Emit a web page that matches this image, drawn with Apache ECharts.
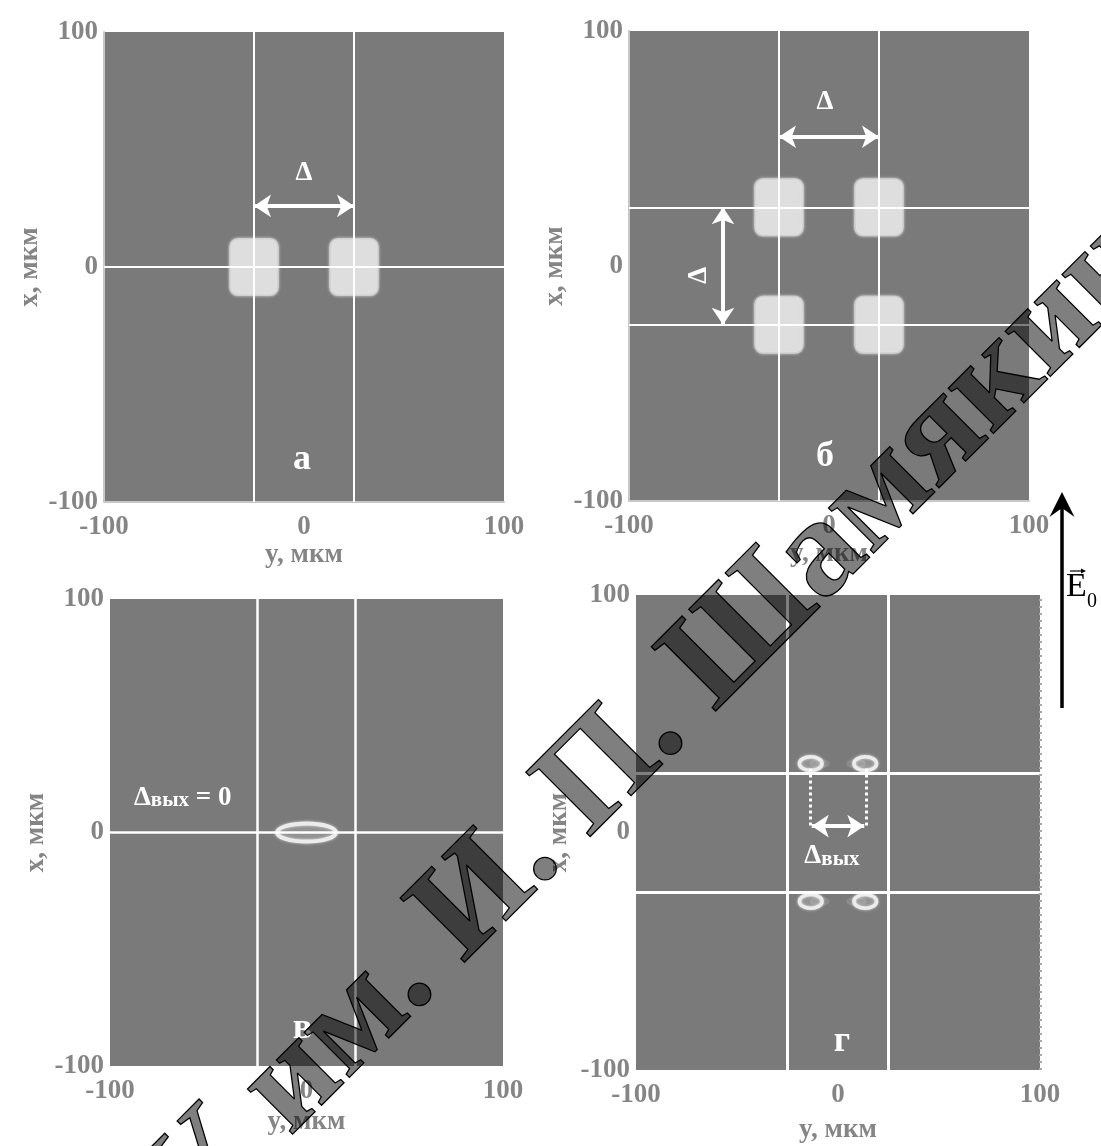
<!DOCTYPE html>
<html><head><meta charset="utf-8">
<script src="https://cdn.jsdelivr.net/npm/echarts@6/dist/echarts.min.js"></script>
<style>html,body{margin:0;padding:0;background:#fff}#c{width:1101px;height:1146px}</style>
</head><body><div id="c"></div>
<script>
// ---------- data ----------
const axisMin = -100, axisMax = 100, tickStep = 100;
const horizName = 'y, мкм';
const vertName = 'x, мкм';

// guide lines: vertical at y-values, horizontal at x-values
const guidesA_v = [-25, 25], guidesA_h = [0];
const guidesB_v = [-25, 25], guidesB_h = [25, -25];
const guidesV_v = [-25, 25], guidesV_h = [0];
const guidesG_v = [-25, 25], guidesG_h = [25, -25];

// input beams (squares) centres [y, x]
const squaresA = [[-25, 0], [25, 0]];
const squaresB = [[-25, 25], [25, 25], [-25, -25], [25, -25]];
const squareSide = 24;

// output rings centres [y, x] and radii [ry, rx]
const ringsV = [[0, 0]];
const ringV_radii = [15, 3.9];
const ringsG = [[-13.5, 29], [13.5, 29], [-13.5, -29], [13.5, -29]];
const ringG_radii = [5.6, 2.9];

// double arrows
const arrowsA = [[[-25, 26], [25, 26]]];
const arrowsB = [[[-25, 55], [25, 55]], [[-53, 25], [-53, -25]]];
const arrowsG = [[[-13, 2.7], [13, 2.7]]];
const dottedG = [[[-13.8, 27], [-13.8, 3]], [[14, 27], [14, 3]]];

// text labels [y, x, text, rotate]
const labelsA = [[0, 41, '{d|Δ}', 0], [-1, -82, '{p|а}', 0]];
const labelsB = [[-2, 71, '{d|Δ}', 0], [-66, -4, '{d|Δ}', 90], [-2, -81, '{p|б}', 0]];
const labelsV = [[-63, 16, '{d|Δ}{s|вых}{d| = 0}', 0], [-2, -84, '{p|в}', 0]];
const labelsG = [[-3, -9, '{d|Δ}{s|вых}', 0], [2, -88, '{p|г}', 0]];

// watermark text
const wmLeft = 'МГПУ им. И. П.';
const wmRight = ' Шамякина';

// ---------- layout ----------
const grids = [
  {left: 104, top: 32, width: 400, height: 470},
  {left: 629, top: 31, width: 400, height: 470},
  {left: 110, top: 599, width: 393, height: 467},
  {left: 636, top: 595, width: 404, height: 475}
];
const xNameGap = [35, 35, 43, 47];
const yNameGap = [60, 60, 60, 63];
const xLabelMargin = [12, 12, 12, 12];
const showAxisLine = [true, true, false, false];

const SERIF = '"Liberation Serif", "DejaVu Serif", serif';
const GRAY_TXT = '#858585';

const xAxes = grids.map((g, i) => ({
  type: 'value', gridIndex: i, min: axisMin, max: axisMax, interval: tickStep,
  name: horizName, nameLocation: 'middle', nameGap: xNameGap[i],
  nameTextStyle: {fontFamily: SERIF, fontWeight: 'bold', fontSize: 27, color: GRAY_TXT},
  axisLine: {show: showAxisLine[i], onZero: false, lineStyle: {color: '#c8c8c8', width: 2}},
  axisTick: {show: false}, splitLine: {show: false},
  axisLabel: {fontFamily: SERIF, fontWeight: 'bold', fontSize: 27, color: GRAY_TXT, margin: xLabelMargin[i]}
}));
const yAxes = grids.map((g, i) => ({
  type: 'value', gridIndex: i, min: axisMin, max: axisMax, interval: tickStep,
  name: vertName, nameLocation: 'middle', nameGap: yNameGap[i], nameRotate: 90,
  nameTextStyle: {fontFamily: SERIF, fontWeight: 'bold', fontSize: 27, color: GRAY_TXT},
  axisLine: {show: showAxisLine[i], onZero: false, lineStyle: {color: '#c8c8c8', width: 2}},
  axisTick: {show: false}, splitLine: {show: false},
  axisLabel: {fontFamily: SERIF, fontWeight: 'bold', fontSize: 27, color: GRAY_TXT, margin: 6}
}));

function squareSeries(idx, data) {
  return {
    type: 'custom', xAxisIndex: idx, yAxisIndex: idx, z: 2, silent: true,
    data: data,
    renderItem: function (params, api) {
      const y = api.value(0), x = api.value(1), h = squareSide / 2;
      const p0 = api.coord([y - h, x + h]);
      const p1 = api.coord([y + h, x - h]);
      return {type: 'rect',
        shape: {x: p0[0], y: p0[1], width: p1[0] - p0[0], height: p1[1] - p0[1], r: 8},
        style: {fill: '#dedede', stroke: '#cfcfcf', lineWidth: 1.5, shadowBlur: 3, shadowColor: 'rgba(230,230,230,0.8)'}};
    }
  };
}
function ellipsePath(cx, cy, rx, ry) {
  return 'M' + (cx - rx) + ',' + cy + 'A' + rx + ',' + ry + ',0,1,0,' + (cx + rx) + ',' + cy +
         'A' + rx + ',' + ry + ',0,1,0,' + (cx - rx) + ',' + cy + 'Z';
}
function ringSeries(idx, data, radii, width, tail) {
  return {
    type: 'custom', xAxisIndex: idx, yAxisIndex: idx, z: 2, silent: true,
    data: data,
    renderItem: function (params, api) {
      const y = api.value(0), x = api.value(1);
      const c = api.coord([y, x]);
      const e = api.coord([y + radii[0], x + radii[1]]);
      const rx = Math.abs(e[0] - c[0]), ry = Math.abs(e[1] - c[1]);
      const children = [];
      if (tail) {
        const dir = y < 0 ? 1 : -1;
        children.push({type: 'path', shape: {pathData: ellipsePath(c[0] + dir * rx * 0.8, c[1], rx * 0.8, ry * 0.55)},
          style: {fill: 'rgba(170,170,170,0.25)', stroke: 'rgba(190,190,190,0.2)', lineWidth: 2}});
      }
      children.push({type: 'path', shape: {pathData: ellipsePath(c[0], c[1], rx, ry)},
        style: {fill: 'rgba(255,255,255,0.12)', stroke: '#ececec', lineWidth: width, shadowBlur: 3, shadowColor: 'rgba(255,255,255,0.7)'}});
      return {type: 'group', children: children};
    }
  };
}
function guideSeries(idx, vs, hs, w) {
  return {
    type: 'line', xAxisIndex: idx, yAxisIndex: idx, data: [], z: 3, silent: true,
    markLine: {silent: true, symbol: ['none', 'none'], animation: false,
      label: {show: false},
      lineStyle: {color: '#ffffff', width: w, type: 'solid', opacity: 1},
      emphasis: {disabled: true},
      data: vs.map(v => ({xAxis: v})).concat(hs.map(v => ({yAxis: v})))}
  };
}
function edgeSeries(idx) {
  return {
    type: 'line', xAxisIndex: idx, yAxisIndex: idx, data: [], z: 3, silent: true,
    markLine: {silent: true, symbol: ['none', 'none'], animation: false,
      label: {show: false},
      lineStyle: {color: '#a8a8a8', width: 3, type: [2, 5], opacity: 1},
      emphasis: {disabled: true},
      data: [{xAxis: axisMax}]}
  };
}
function arrowSeries(idx, data) {
  return {
    type: 'lines', coordinateSystem: 'cartesian2d', xAxisIndex: idx, yAxisIndex: idx, z: 4, silent: true,
    symbol: ['arrow', 'arrow'], symbolSize: 17,
    lineStyle: {color: '#ffffff', width: 4, opacity: 1, curveness: 0},
    itemStyle: {color: '#ffffff'},
    data: data.map(c => ({coords: c}))
  };
}
function dottedSeries(idx, data) {
  return {
    type: 'lines', coordinateSystem: 'cartesian2d', xAxisIndex: idx, yAxisIndex: idx, z: 4, silent: true,
    symbol: ['none', 'none'],
    lineStyle: {color: '#ffffff', width: 3, opacity: 1, type: 'dotted'},
    data: data.map(c => ({coords: c}))
  };
}
const richStyles = {
  d: {fontFamily: SERIF, fontWeight: 'bold', fontSize: 27, color: '#fff', verticalAlign: 'bottom', lineHeight: 32},
  s: {fontFamily: SERIF, fontWeight: 'bold', fontSize: 21, color: '#fff', verticalAlign: 'bottom', lineHeight: 22},
  p: {fontFamily: SERIF, fontWeight: 'bold', fontSize: 36, color: '#fff'}
};
function labelSeries(idx, data) {
  return {
    type: 'custom', xAxisIndex: idx, yAxisIndex: idx, z: 6, silent: true,
    data: data.map(d => [d[0], d[1]]),
    renderItem: function (params, api) {
      const d = data[params.dataIndex];
      const p = api.coord([d[0], d[1]]);
      return {type: 'text', x: p[0], y: p[1], rotation: d[3] * Math.PI / 180,
        style: {text: d[2], rich: richStyles, align: 'center', verticalAlign: 'middle', fill: '#fff'}};
    }
  };
}

// ---------- watermark ----------
const WM = 139;
const anchor = [664, 712];
function wmTexts(fill, stroke, lw, z) {
  const base = {font: 'bold ' + WM + 'px "Liberation Serif"', verticalAlign: 'middle', fill: fill, stroke: stroke, lineWidth: lw};
  return [
    {type: 'text', x: anchor[0], y: anchor[1], rotation: Math.PI / 4, z: z, silent: true,
     style: Object.assign({text: wmLeft, align: 'right'}, base)},
    {type: 'text', x: anchor[0], y: anchor[1], rotation: Math.PI / 4, z: z, silent: true,
     style: Object.assign({text: wmRight, align: 'left'}, base)}
  ];
}

const series = [
  squareSeries(0, squaresA), guideSeries(0, guidesA_v, guidesA_h, 2), arrowSeries(0, arrowsA), labelSeries(0, labelsA),
  squareSeries(1, squaresB), guideSeries(1, guidesB_v, guidesB_h, 2), arrowSeries(1, arrowsB), labelSeries(1, labelsB),
  ringSeries(2, ringsV, ringV_radii, 4, false), guideSeries(2, guidesV_v, guidesV_h, 2.5), labelSeries(2, labelsV),
  ringSeries(3, ringsG, ringG_radii, 3.5, true), guideSeries(3, guidesG_v, guidesG_h, 3), edgeSeries(3), dottedSeries(3, dottedG), arrowSeries(3, arrowsG), labelSeries(3, labelsG)
];

const graphic = wmTexts('rgba(0,0,0,0.5)', '#000', 1.3, 100).concat([
  {type: 'line', z: 50, silent: true, shape: {x1: 1062, y1: 506, x2: 1062, y2: 708}, style: {stroke: '#000', lineWidth: 3.5}},
  {type: 'polygon', z: 50, silent: true, shape: {points: [[1062, 492], [1074.5, 517], [1062, 508], [1049.5, 517]]}, style: {fill: '#000'}},
  {type: 'text', z: 50, silent: true, x: 1066, y: 604, style: {text: 'E', font: '34px "Liberation Serif"', fill: '#000', align: 'left', verticalAlign: 'bottom'}},
  {type: 'text', z: 50, silent: true, x: 1087, y: 612, style: {text: '0', font: '20px "Liberation Serif"', fill: '#000', align: 'left', verticalAlign: 'bottom'}},
  {type: 'line', z: 50, silent: true, shape: {x1: 1070, y1: 571, x2: 1083, y2: 571}, style: {stroke: '#000', lineWidth: 1.2}},
  {type: 'polygon', z: 50, silent: true, shape: {points: [[1086, 571], [1081, 568.5], [1081, 573.5]]}, style: {fill: '#000'}}
]);

const chart = echarts.init(document.getElementById('c'), null, {renderer: 'canvas'});
chart.setOption({
  animation: false,
  backgroundColor: '#ffffff',
  grid: grids.map(g => Object.assign({show: true, backgroundColor: '#7a7a7a', borderWidth: 0, containLabel: false}, g)),
  xAxis: xAxes,
  yAxis: yAxes,
  series: series,
  graphic: graphic
});
</script>
</body></html>
